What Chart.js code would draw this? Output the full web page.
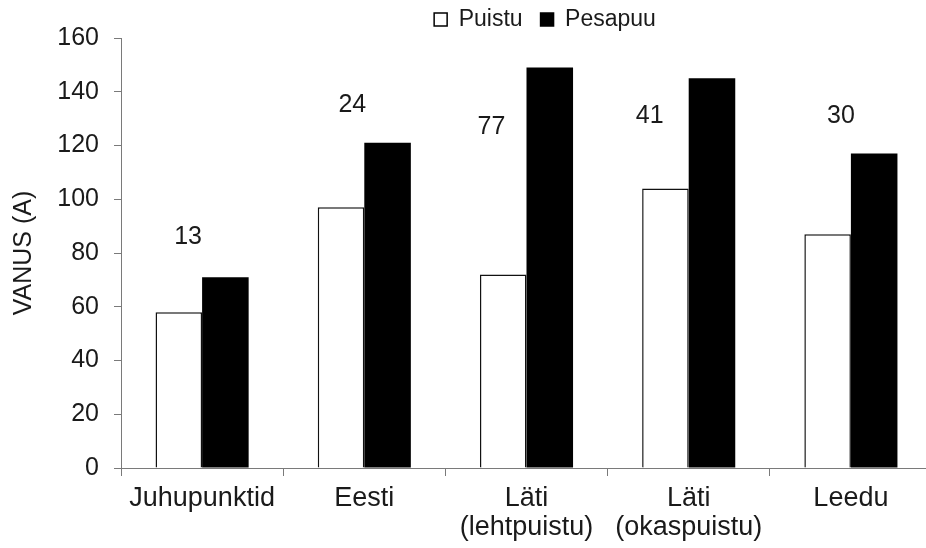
<!DOCTYPE html>
<html>
<head>
<meta charset="utf-8">
<script src="https://cdn.jsdelivr.net/npm/chart.js@4"></script>
<style>
  html, body { margin: 0; padding: 0; background: #fff; overflow: hidden; }
  #wrap { width: 932px; height: 548px; }
</style>
</head>
<body>
<div id="wrap"><canvas id="vanusChart"></canvas></div>
<script>
const categories = ['Juhupunktid', 'Eesti', ['Läti', '(lehtpuistu)'], ['Läti', '(okaspuistu)'], 'Leedu'];
const puistu = [58, 97, 72, 104, 87];
const pesapuu = [71, 121, 149, 145, 117];
const counts = [13, 24, 77, 41, 30];
const yTicks = [0, 20, 40, 60, 80, 100, 120, 140, 160];

// where the count labels sit (value units / px offset from category centre)
const countY = [86, 135, 127, 131, 131];
const countDx = [-14, -12, -35, -39, -10];

const FONT = '"Liberation Sans", Arial, sans-serif';
const TEXT = '#1a1a1a';
const AXIS = '#7a7a7a';

// counts above the groups
const countLabels = {
  id: 'countLabels',
  afterDatasetsDraw(chart) {
    const { ctx, scales: { x, y } } = chart;
    ctx.save();
    ctx.font = '25px ' + FONT;
    ctx.fillStyle = TEXT;
    ctx.textAlign = 'center';
    ctx.textBaseline = 'middle';
    counts.forEach((c, i) => {
      ctx.fillText(String(c), x.getPixelForValue(i) + countDx[i], y.getPixelForValue(countY[i]));
    });
    ctx.restore();
  }
};

// legend sits right of the canvas centre in the original, and a bit higher
const legendShift = {
  id: 'legendShift',
  afterLayout(chart) {
    const l = chart.legend;
    if (l) { l.left += 79; l.right += 79; l.top -= 10; }
  }
};

const ctx = document.getElementById('vanusChart').getContext('2d');
new Chart(ctx, {
  type: 'bar',
  data: {
    labels: categories,
    datasets: [
      {
        label: 'Puistu',
        data: puistu,
        backgroundColor: '#ffffff',
        borderColor: '#111111',
        borderWidth: 1.5,
        barPercentage: 1,
        categoryPercentage: 0.574
      },
      {
        label: 'Pesapuu',
        data: pesapuu,
        backgroundColor: '#000000',
        borderColor: '#000000',
        borderWidth: 0,
        barPercentage: 1,
        categoryPercentage: 0.574
      }
    ]
  },
  options: {
    responsive: true,
    maintainAspectRatio: false,
    animation: false,
    layout: { padding: 0 },
    plugins: {
      legend: {
        position: 'top',
        maxHeight: 38,
        labels: {
          font: { family: FONT, size: 23 },
          color: TEXT,
          boxWidth: 13,
          boxHeight: 13,
          padding: 18,
          generateLabels(chart) {
            return chart.data.datasets.map((ds, i) => ({
              text: ds.label,
              fillStyle: ds.backgroundColor,
              strokeStyle: '#000',
              lineWidth: 1.5,
              fontColor: TEXT,
              datasetIndex: i,
              hidden: false
            }));
          }
        }
      },
      tooltip: { enabled: false }
    },
    scales: {
      x: {
        grid: { display: true, offset: true, drawOnChartArea: false, tickLength: 8, color: AXIS },
        border: { color: AXIS, width: 1 },
        ticks: {
          font: { family: FONT, size: 27, lineHeight: 1.04 },
          color: TEXT,
          padding: 9,
          maxRotation: 0
        },
        afterFit(scale) { scale.height = 80; }
      },
      y: {
        min: 0,
        max: 160,
        afterBuildTicks(scale) { scale.ticks = yTicks.map(v => ({ value: v })); },
        grid: { drawOnChartArea: false, tickLength: 7, color: AXIS },
        border: { color: AXIS, width: 1 },
        ticks: {
          font: { family: FONT, size: 25 },
          color: TEXT,
          padding: 15
        },
        title: {
          display: true,
          text: 'VANUS (A)',
          font: { family: FONT, size: 25 },
          color: TEXT,
          padding: { top: 9, bottom: 0 }
        },
        afterFit(scale) { scale.width = 121; }
      }
    }
  },
  plugins: [countLabels, legendShift]
});
</script>
</body>
</html>
